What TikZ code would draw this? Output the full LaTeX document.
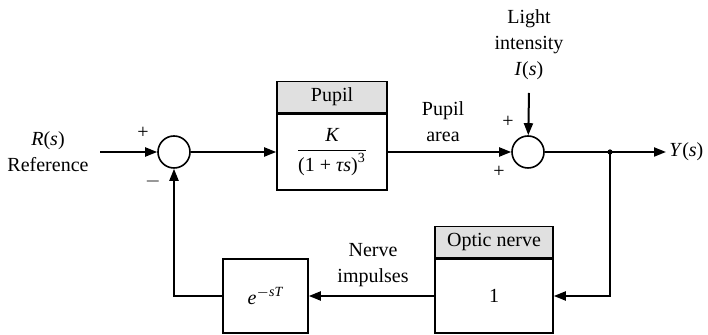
\documentclass[tikz,border=0pt]{standalone}
\usepackage{amsmath}
\usepackage{fontspec}
\setmainfont{Liberation Serif}
\usetikzlibrary{arrows.meta}
\begin{document}
\begin{tikzpicture}[x=0.5pt,y=-0.5pt,
  font=\fontsize{10}{13}\selectfont,
  sumj/.style={circle,draw,line width=0.8pt,minimum size=16pt,inner sep=0pt},
  blk/.style={draw,line width=0.8pt,inner sep=0pt,align=center},
  hdr/.style={draw,line width=0.8pt,fill=black!12,inner sep=0pt,align=center},
  arr/.style={line width=1pt,-{Triangle[length=6pt,width=4.5pt]}},
  ln/.style={line width=1pt},
  lbl/.style={align=center,inner sep=0pt},
  sgn/.style={inner sep=0pt}]
\useasboundingbox (0,0) rectangle (708,335);
% forward path
\coordinate (in) at (100,152);
\node[lbl] (rl) at (48,152) {\textit{R}(\textit{s})\\Reference};
\node[sumj] (s1) at (174,152) {};
\node[blk,minimum width=55pt,minimum height=38pt] (pb) at (332,152)
  {$\dfrac{\textit{K}}{\textrm{(1 + }\textit{τs}\textrm{)}^{\textrm{3}}}$};
\node[hdr,minimum width=55pt,minimum height=15.5pt,anchor=south] (ph) at (pb.north) {Pupil};
\node[sumj] (s2) at (528,152) {};
\node[lbl] (pa) at (443,122) {Pupil\\area};
\node[lbl] (li) at (529,45) {Light\\intensity\\\textit{I}(\textit{s})};
\coordinate (lt) at (529,93);
\coordinate (br) at (610,152);
\coordinate (out) at (666,152);
\node[lbl,anchor=west] (yl) at (669,152) {\textit{Y}(\textit{s})};
% feedback path
\node[blk,minimum width=59pt,minimum height=37pt] (ob) at (494,296) {1};
\node[hdr,minimum width=59pt,minimum height=15.5pt,anchor=south] (oh) at (ob.north) {Optic nerve};
\node[blk,minimum width=42.5pt,minimum height=37pt] (eb) at (265.5,296) {\textit{e}$^{-\textit{sT}}$};
\node[lbl] (ni) at (373,265) {Nerve\\impulses};
% signs
\node[sgn] at (143,133) {+};
\node[sgn] at (153,182) {$-$};
\node[sgn] at (508,122) {+};
\node[sgn] at (499,172) {+};
% connectors
\draw[arr] (in) -- (s1);
\draw[arr] (s1) -- (pb);
\draw[arr] (pb) -- (s2);
\draw[arr] (lt) -- (s2);
\draw[ln] (s2) -- (br);
\draw[arr] (br) -- (out);
\fill (br) circle (1.3pt);
\draw[arr] (br) |- (ob.east);
\draw[arr] (ob) -- (eb);
\draw[arr] (eb.west) -| (s1.south);
\end{tikzpicture}
\end{document}
